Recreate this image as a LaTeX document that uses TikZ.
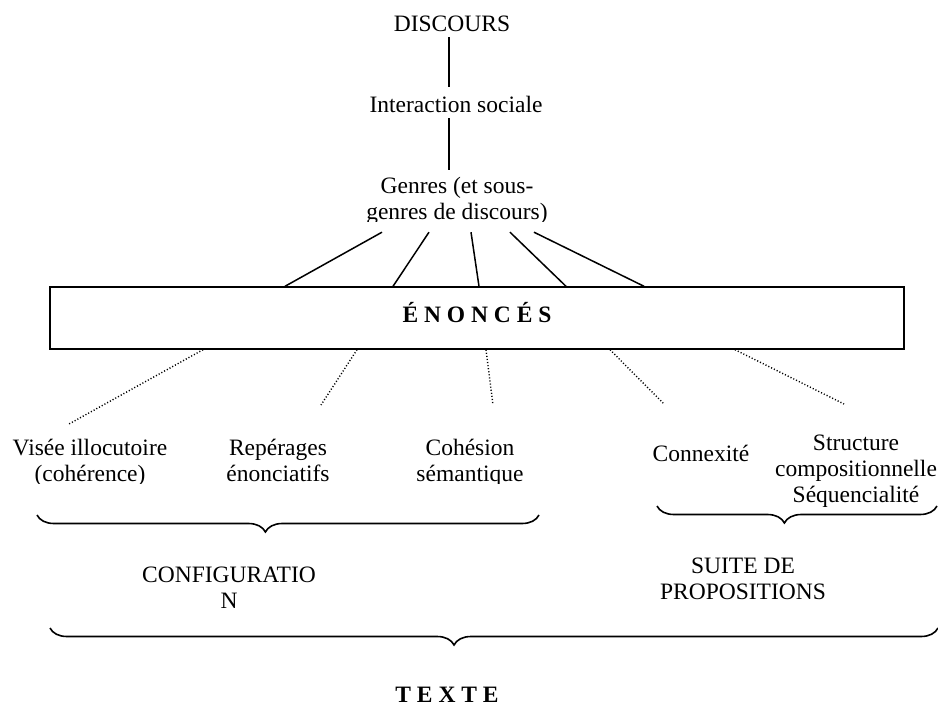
\documentclass[tikz,border=0pt]{standalone}
\usepackage{fontspec}
\setmainfont{Liberation Serif}
\usetikzlibrary{decorations.pathreplacing,calc}
% centred stack of lines whose baseline is that of the first line
\newcommand\textrows[1]{\begin{tabular}[t]{@{}c@{}}#1\end{tabular}}
\begin{document}
\begin{tikzpicture}[x=1pt,y=-1pt,
  lbl/.style={inner sep=0pt, anchor=base, font=\fontsize{23.5}{26}\selectfont},
  boldlbl/.style={lbl, font=\fontsize{23.5}{26}\selectfont\bfseries},
  link/.style={line width=1.5pt},
  dotlink/.style={line width=1.4pt, dash pattern=on 1.1pt off 2pt},
  curly/.style={line width=1.6pt, decorate,
    decoration={brace, mirror, amplitude=17pt, aspect=0.455}}]
\useasboundingbox (0,0) rectangle (938,706);

% upper chain
\node[lbl] (discours) at (452,32) {DISCOURS};
\node[lbl] (inter) at (456,113) {Interaction sociale};
\begin{scope}
  \clip (0,0) rectangle (938,222);
  \node[lbl] (genres) at (457,194) {\textrows{Genres (et sous-\\genres de discours)}};
\end{scope}

\draw[link] ([xshift=-3pt,yshift=-5pt]discours.south) -- ([xshift=-7pt,yshift=9pt]inter.north);
\draw[link] ([xshift=-7pt,yshift=-5pt]inter.south) -- ([xshift=-8pt,yshift=5.8pt]genres.north);

% central box
\node[draw, line width=1.4pt, minimum width=854pt, minimum height=62pt, inner sep=0pt,
      font=\fontsize{23.5}{26}\selectfont\bfseries, text height=16pt, text depth=8pt]
  (enonces) at (477,318) {É N O N C É S};

% fan from the genres to the box
\draw[link] ([xshift=-75pt,yshift=-4.2pt]genres.south) -- ([xshift=-192pt]enonces.north);
\draw[link] ([xshift=-28pt,yshift=-4.2pt]genres.south) -- ([xshift=-84pt]enonces.north);
\draw[link] ([xshift=14pt,yshift=-4.2pt]genres.south) -- ([xshift=2pt]enonces.north);
\draw[link] ([xshift=53pt,yshift=-4.2pt]genres.south) -- ([xshift=89pt]enonces.north);
\draw[link] ([xshift=77pt,yshift=-4.2pt]genres.south) -- ([xshift=167pt]enonces.north);

% dotted links below the box
\coordinate (d1) at (69,424);
\coordinate (d2) at (321,405);
\coordinate (d3) at (493,405);
\coordinate (d4) at (664,404);
\coordinate (d5) at (844,404);
\draw[dotlink] ([xshift=-274pt]enonces.south) -- (d1);
\draw[dotlink] ([xshift=-120pt]enonces.south) -- (d2);
\draw[dotlink] ([xshift=9pt]enonces.south) -- (d3);
\draw[dotlink] ([xshift=133pt]enonces.south) -- (d4);
\draw[dotlink] ([xshift=258pt]enonces.south) -- (d5);

% components
\begin{scope}
  \clip (0,0) rectangle (938,483);
  \node[lbl] (visee) at (90,455) {\textrows{Visée illocutoire\\(cohérence)}};
  \node[lbl] (reperages) at (278,455) {\textrows{Repérages\\énonciatifs}};
  \node[lbl] (cohesion) at (470,455) {\textrows{Cohésion\\sémantique}};
\end{scope}
\node[lbl] (connexite) at (701,461) {Connexité};
\node[lbl] (structure) at (856,450) {\textrows{Structure\\compositionnelle\\Séquencialité}};

% groupings
\draw[curly] (37,515) -- (539,515);
\draw[curly] (657,506) -- (937,506);
\node[lbl] (configuration) at (229,582) {\textrows{CONFIGURATIO\\N}};
\node[lbl] (suite) at (743,573) {\textrows{SUITE DE\\PROPOSITIONS}};
\draw[curly] (50,628) -- (938,628);
\node[boldlbl] (texte) at (447,702) {T E X T E};
\end{tikzpicture}
\end{document}
